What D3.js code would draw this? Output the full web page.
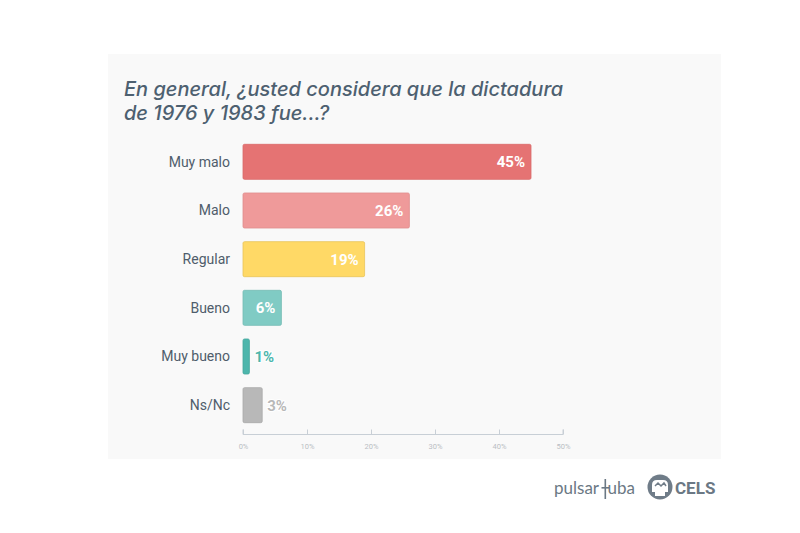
<!DOCTYPE html>
<html>
<head>
<meta charset="utf-8">
<script src="https://cdn.jsdelivr.net/npm/d3@7"></script>
<style>
  body { margin: 0; background: #fff; }
  svg { display: block; }
</style>
</head>
<body>
<svg id="chart" width="800" height="533"></svg>
<script>
// data
var categories = ["Muy malo", "Malo", "Regular", "Bueno", "Muy bueno", "Ns/Nc"];
var values = [45, 26, 19, 6, 1, 3];
var barColors = ["#e57373", "#ef9a9a", "#ffd966", "#80cbc4", "#4db6ac", "#b8b8b8"];
var strokeColors = ["#d96a6a", "#e08e8e", "#e9c45a", "#74bbb4", "#45a79d", "#a9a9a9"];
var tickValues = [0, 10, 20, 30, 40, 50];
var titleLines = ["En general, \u00bfusted considera que la dictadura", "de 1976 y 1983 fue...?"];

var svg = d3.select("#chart");

// panel background
svg.append("rect")
  .attr("x", 108).attr("y", 54)
  .attr("width", 613).attr("height", 405)
  .attr("fill", "#f9f9f9");

// title
var title = svg.append("text")
  .attr("x", 124).attr("y", 96)
  .attr("fill", "#4d6070")
  .attr("font-family", "Inter, 'Open Sans', sans-serif")
  .attr("font-style", "italic")
  .attr("font-size", 20)
  .attr("font-weight", 500);
title.selectAll("tspan").data(titleLines).enter().append("tspan")
  .attr("x", 124)
  .attr("dy", function (d, i) { return i === 0 ? 0 : 24; })
  .text(function (d) { return d; });

var x = d3.scaleLinear().domain([0, 50]).range([243, 563]);
var y = d3.scaleBand().domain(categories).range([137.5, 429.5]).paddingInner(0.28).paddingOuter(0.14);

var data = categories.map(function (c, i) {
  return { cat: c, value: values[i], color: barColors[i], stroke: strokeColors[i] };
});

// bars
svg.append("g").selectAll("rect").data(data).enter().append("rect")
  .attr("x", x(0))
  .attr("y", function (d) { return y(d.cat); })
  .attr("width", function (d) { return x(d.value) - x(0); })
  .attr("height", y.bandwidth())
  .attr("rx", 1.5)
  .attr("fill", function (d) { return d.color; })
  .attr("stroke", function (d) { return d.stroke; })
  .attr("stroke-width", 0.8);

// category labels
svg.append("g").selectAll("text").data(data).enter().append("text")
  .attr("x", 230)
  .attr("y", function (d) { return y(d.cat) + y.bandwidth() / 2; })
  .attr("dy", "0.35em")
  .attr("text-anchor", "end")
  .attr("fill", "#4f5d6b")
  .attr("font-family", "Roboto, sans-serif")
  .attr("font-size", 14)
  .text(function (d) { return d.cat; });

// value labels
var inside = function (d) { return d.value >= 5; };
svg.append("g").selectAll("text").data(data).enter().append("text")
  .attr("x", function (d) { return inside(d) ? x(d.value) - 6 : x(d.value) + 5; })
  .attr("y", function (d) { return y(d.cat) + y.bandwidth() / 2; })
  .attr("dy", "0.36em")
  .attr("text-anchor", function (d) { return inside(d) ? "end" : "start"; })
  .attr("fill", function (d) { return inside(d) ? "#ffffff" : d.color; })
  .attr("stroke", function (d) { return inside(d) ? "none" : "#ffffff"; })
  .attr("stroke-width", 2)
  .attr("paint-order", "stroke")
  .attr("font-family", "Roboto, sans-serif")
  .attr("font-weight", 700)
  .attr("font-size", 15)
  .text(function (d) { return d.value + "%"; });

// axis
var axis = svg.append("g")
  .attr("transform", "translate(0,434.5)")
  .call(d3.axisTop(x).tickValues(tickValues).tickSize(5).tickFormat(function (d) { return d + "%"; }));
axis.select(".domain").attr("stroke", "#c8cfd6").attr("d", "M" + x(0) + ",-5V0H" + x(50) + "V-5");
axis.selectAll(".tick line").attr("stroke", "#c8cfd6");
axis.selectAll(".tick text")
  .attr("y", 14).attr("dy", 0)
  .attr("fill", "#b9bec4")
  .attr("font-family", "Roboto, sans-serif")
  .attr("font-size", 7.5);

// logos
var logo = svg.append("g").attr("fill", "#6b7884");
logo.append("text")
  .attr("x", 554).attr("y", 494)
  .attr("font-family", "Lato, 'Open Sans', sans-serif")
  .attr("font-size", 17)
  .text("pulsar");
logo.append("rect").attr("x", 604.5).attr("y", 479).attr("width", 1.6).attr("height", 20);
logo.append("rect").attr("x", 601.5).attr("y", 487).attr("width", 7.5).attr("height", 1.6);
logo.append("text")
  .attr("x", 607.5).attr("y", 494)
  .attr("font-family", "Lato, 'Open Sans', sans-serif")
  .attr("font-size", 17)
  .text("uba");

var cels = svg.append("g").attr("transform", "translate(660,487)");
cels.append("circle").attr("r", 12.5).attr("fill", "#6f7c88");
cels.append("path")
  .attr("d", "M-8,-2 Q-8,-7 -3,-7 L3,-7 Q8,-7 8,-2 L8,5 L5,5 L5,9 L-5,9 L-5,5 L-8,5 Z")
  .attr("fill", "#ffffff");
cels.append("path")
  .attr("d", "M-5,-1 L-2,-4 L1,-1 L4,-4 L6,-1")
  .attr("stroke", "#6f7c88").attr("stroke-width", 1.5).attr("fill", "none");
svg.append("text")
  .attr("x", 675).attr("y", 494)
  .attr("fill", "#6b7884")
  .attr("font-family", "Roboto, sans-serif")
  .attr("font-weight", 700)
  .attr("font-size", 17)
  .text("CELS");
</script>
</body>
</html>
